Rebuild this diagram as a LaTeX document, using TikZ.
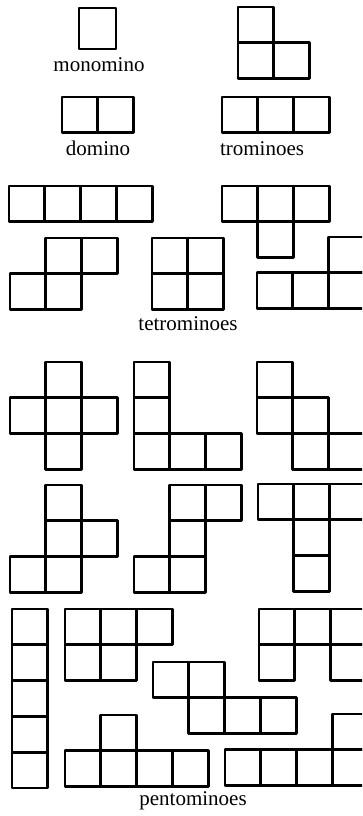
\documentclass[tikz,border=0pt]{standalone}
\usepackage{fontspec}
\setmainfont{Liberation Serif}
\usetikzlibrary{calc}

\newcommand{\cellw}{35.8}
% one polyomino: #1 = top left corner, #2 = list of col/row cells
\newcommand{\omino}[2]{%
	\foreach \cx/\cy in {#2}
	{
		\draw[cell] ($(#1)+(\cx*\cellw,\cy*\cellw)$) rectangle ++(\cellw,\cellw);
	}
}

\begin{document}
\begin{tikzpicture}[
		x=1pt, y=-1pt,
		cell/.style={draw, line width=2.9pt, line join=round},
		lbl/.style={font=\fontsize{21}{24}\selectfont, anchor=base, inner sep=0pt}
		]
		\useasboundingbox (0,0) rectangle (362,816);
		\clip (0,0) rectangle (362,816);
		
		% --------------------------------------------------
		% monomino, domino, trominoes
		% --------------------------------------------------
		\draw[cell] (79,8) rectangle ++(37,41);
		\node[lbl] (mono) at (99,71) {monomino};
		
		\omino{238,7}{0/0,0/1,1/1}
		
		\omino{62,97}{0/0,1/0}
		\node[lbl] (dom) at (98,155) {domino};
		
		\omino{222,97}{0/0,1/0,2/0}
		\node[lbl] (trom) at (262,155) {trominoes};
		
		% --------------------------------------------------
		% tetrominoes
		% --------------------------------------------------
		\omino{9,186}{0/0,1/0,2/0,3/0}
		\omino{222,186}{0/0,1/0,2/0,1/1}
		\omino{10,238}{1/0,2/0,0/1,1/1}
		\omino{152,238}{0/0,1/0,0/1,1/1}
		\omino{257,237}{2/0,0/1,1/1,2/1}
		\node[lbl] (tetr) at (188,330) {tetrominoes};
		
		% --------------------------------------------------
		% pentominoes
		% --------------------------------------------------
		\omino{10,362}{1/0,0/1,1/1,2/1,1/2}
		\omino{134,362}{0/0,0/1,0/2,1/2,2/2}
		\omino{257,362}{0/0,0/1,1/1,1/2,2/2}
		
		\omino{10,485}{1/0,1/1,2/1,0/2,1/2}
		\omino{134,485}{1/0,2/0,1/1,0/2,1/2}
		\omino{258,484}{0/0,1/0,2/0,1/1,1/2}
		
		\omino{12,609}{0/0,0/1,0/2,0/3,0/4}
		\omino{65,609}{0/0,1/0,2/0,0/1,1/1}
		\omino{259,609}{0/0,1/0,2/0,0/1,2/1}
		\omino{153,662}{0/0,1/0,1/1,2/1,3/1}
		\omino{65,715}{1/0,0/1,1/1,2/1,3/1}
		\omino{225,714}{3/0,0/1,1/1,2/1,3/1}
		\node[lbl] (pent) at (193,805) {pentominoes};
		
	\end{tikzpicture}
\end{document}
